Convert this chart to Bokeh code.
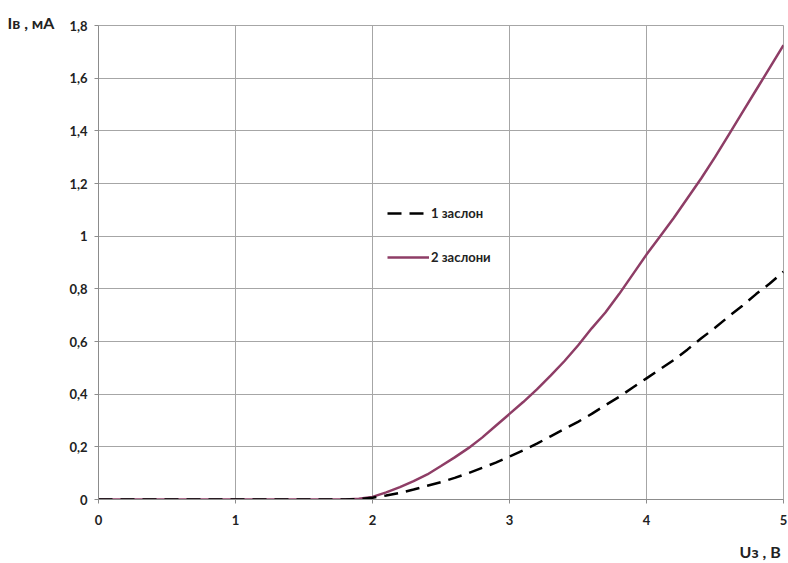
from bokeh.plotting import figure
from bokeh.models import Range1d, FixedTicker, Legend, LegendItem, Title
from bokeh.embed import file_html
from bokeh.resources import INLINE

# data
u_vals = [0, 0.5, 1.0, 1.5, 1.8, 1.9, 2.0, 2.1, 2.2, 2.3, 2.4, 2.5, 2.6, 2.7, 2.8, 2.9,
          3.0, 3.1, 3.2, 3.3, 3.4, 3.5, 3.6, 3.7, 3.8, 3.9,
          4.0, 4.1, 4.2, 4.3, 4.4, 4.5, 4.6, 4.7, 4.8, 4.9, 5.0]
i_one = [0, 0, 0, 0, 0.0, 0.002, 0.007, 0.015, 0.025, 0.038, 0.052, 0.066, 0.082, 0.10, 0.12, 0.14,
         0.163, 0.187, 0.212, 0.24, 0.268, 0.295, 0.325, 0.358, 0.39, 0.425,
         0.46, 0.495, 0.53, 0.57, 0.612, 0.652, 0.695, 0.736, 0.78, 0.82, 0.865]
i_two = [0, 0, 0, 0, 0.0, 0.003, 0.01, 0.027, 0.047, 0.07, 0.095, 0.127, 0.16, 0.195, 0.235, 0.28,
         0.325, 0.37, 0.418, 0.47, 0.525, 0.585, 0.65, 0.71, 0.78, 0.855,
         0.93, 1.0, 1.07, 1.145, 1.22, 1.30, 1.385, 1.47, 1.555, 1.64, 1.725]
series_names = ["1 заслон", "2 заслони"]
x_ticks = [0, 1, 2, 3, 4, 5]
y_ticks = [0, 0.2, 0.4, 0.6, 0.8, 1.0, 1.2, 1.4, 1.6, 1.8]
y_tick_labels = ["0", "0,2", "0,4", "0,6", "0,8", "1", "1,2", "1,4", "1,6", "1,8"]
x_title = "Uз , В"
y_title = "Iв , мА"

FONT = "Lato"
GRID = "#a6a6a6"
PURPLE = "#8e3d66"

p = figure(width=788, height=563, output_backend="svg", toolbar_location=None,
           x_range=Range1d(0, 5), y_range=Range1d(0, 1.8),
           min_border_left=98, min_border_right=5, min_border_top=25, min_border_bottom=64)
p.background_fill_color = "white"
p.border_fill_color = "white"
p.outline_line_color = GRID

for ax in (p.xaxis[0], p.yaxis[0]):
    ax.axis_line_color = "#8c8c8c"
    ax.major_tick_line_color = "#8c8c8c"
    ax.major_tick_out = 4
    ax.major_tick_in = 0
    ax.minor_tick_line_color = None
    ax.major_label_text_font = FONT
    ax.major_label_text_font_style = "bold"
    ax.major_label_text_font_size = "13px"
    ax.major_label_text_color = "#222222"

xa = p.xaxis[0]
xa.ticker = FixedTicker(ticks=x_ticks)
xa.major_label_standoff = 11
# the axis label is centred on the frame end; non-breaking padding keeps it inside the page
xa.axis_label = x_title + "\u00a0" * 12
xa.axis_label_align = "end"
xa.axis_label_standoff = 14
xa.axis_label_text_font = FONT
xa.axis_label_text_font_style = "bold"
xa.axis_label_text_font_size = "16px"
xa.axis_label_text_color = "#222222"

p.yaxis[0].ticker = FixedTicker(ticks=y_ticks)
p.yaxis[0].major_label_overrides = {t: l for t, l in zip(y_ticks, y_tick_labels)}
p.yaxis[0].major_label_standoff = 7

p.xgrid.ticker = FixedTicker(ticks=x_ticks)
p.ygrid.ticker = FixedTicker(ticks=y_ticks)
p.grid.grid_line_color = GRID
p.grid.grid_line_width = 1

r2 = p.line(u_vals, i_two, line_color=PURPLE, line_width=2.5)
r1 = p.line(u_vals, i_one, line_color="black", line_width=2.5, line_dash="14 8")

legend = Legend(items=[LegendItem(label=series_names[0], renderers=[r1]),
                       LegendItem(label=series_names[1], renderers=[r2])],
                location=(289, 232), padding=0, margin=0, spacing=24,
                glyph_width=42, glyph_height=20, label_standoff=2,
                label_text_font=FONT, label_text_font_style="bold",
                label_text_font_size="13px", label_text_color="#222222",
                border_line_color=None, background_fill_alpha=0)
p.add_layout(legend)

t_y = Title(text=y_title, align="left", offset=-91, standoff=-12, vertical_align="bottom",
            text_font=FONT, text_font_style="bold", text_font_size="16px", text_color="#222222")
p.add_layout(t_y, "above")

open("out.html", "w").write(file_html(p, INLINE))
